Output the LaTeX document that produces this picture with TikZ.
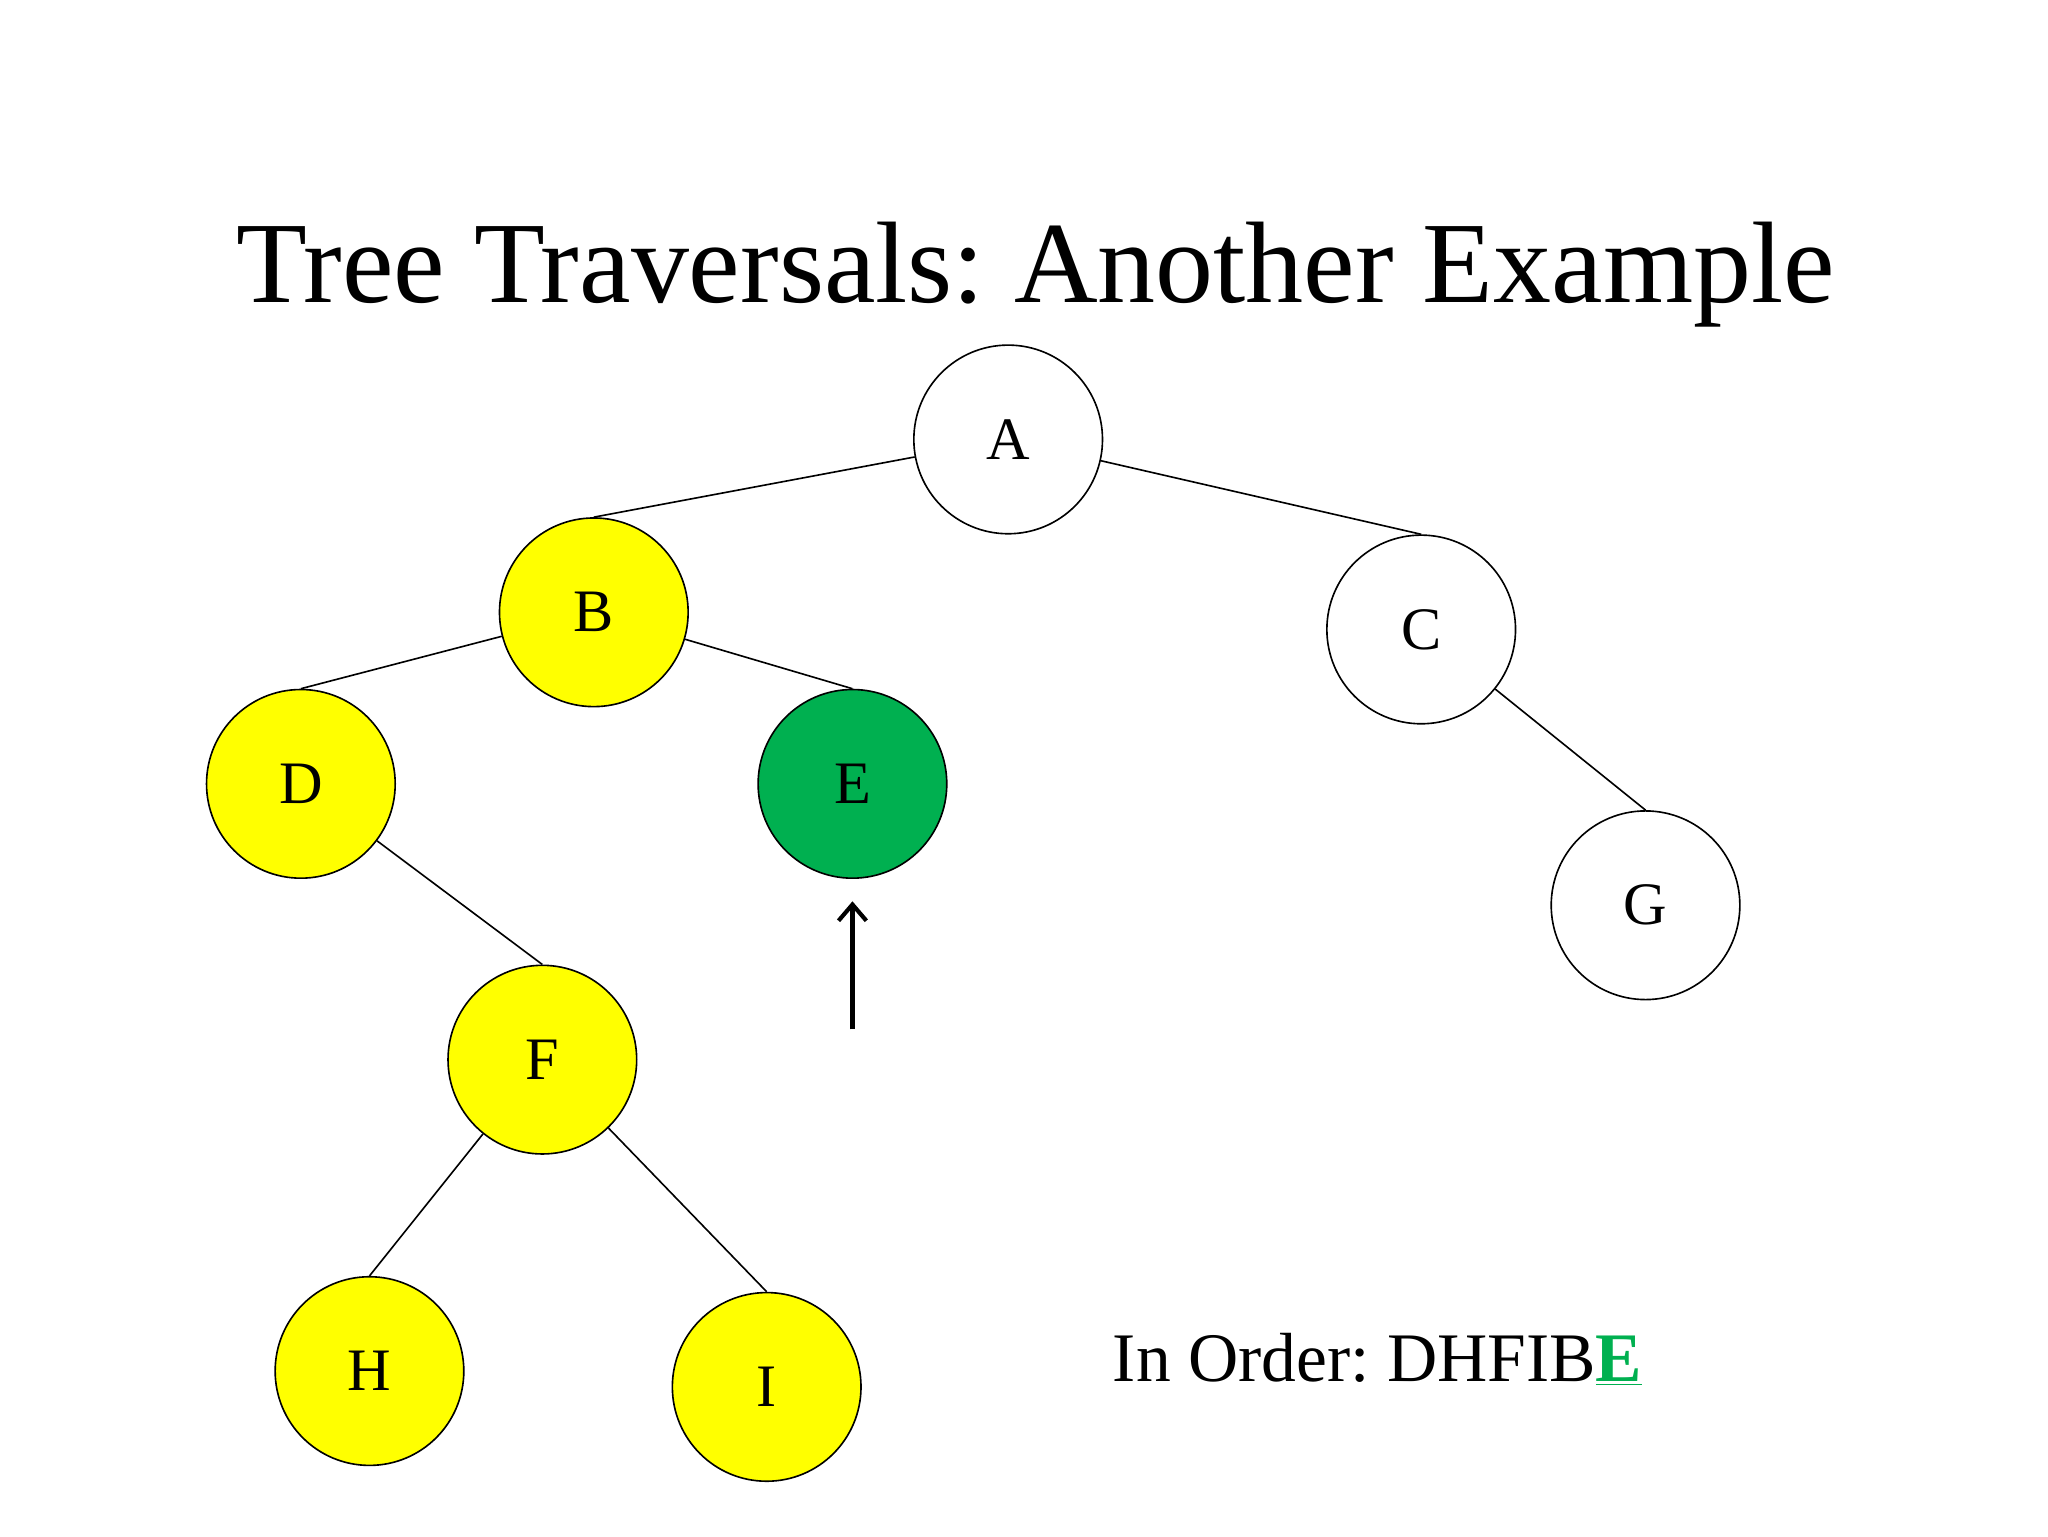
\documentclass[tikz,border=0pt]{standalone}
\usepackage{fontspec}
\setmainfont{Liberation Serif}
\usetikzlibrary{arrows.meta}
\definecolor{ygreen}{RGB}{0,176,80}
\definecolor{yel}{RGB}{255,255,0}
\begin{document}
\frenchspacing
\begin{tikzpicture}[x=0.02cm,y=-0.02cm,
  nd/.style={circle,draw,line width=0.7pt,minimum size=2.86cm,inner sep=0pt,font=\fontsize{26}{30}\selectfont},
  yl/.style={nd,fill=yel},
  ed/.style={line width=0.7pt}]
\useasboundingbox (0,0) rectangle (1552,1164);
\node[font=\fontsize{50}{56}\selectfont] (t) at (785,208) {Tree Traversals: Another Example};
\node[nd] (A) at (764,333) {A};
\node[yl] (B) at (450,464) {B};
\node[nd] (C) at (1077,477) {C};
\node[yl] (D) at (228,594) {D};
\node[nd,fill=ygreen] (E) at (646,594) {E};
\node[yl] (F) at (411,803) {F};
\node[nd] (G) at (1247,686) {G};
\node[yl] (H) at (280,1039) {H};
\node[yl] (I) at (581,1051) {I};
\draw[ed] (A) -- (B.north);
\draw[ed] (A) -- (C.north);
\draw[ed] (B) -- (D.north);
\draw[ed] (B) -- (E.north);
\draw[ed] (C) -- (G.north);
\draw[ed] (D) -- (F.north);
\draw[ed] (F) -- (H.north);
\draw[ed] (F) -- (I.north);
\coordinate (ar) at (646,780);
\coordinate (at) at (646,683);
\draw[line width=1.8pt,-{Straight Barb[length=7pt,width=12pt]}] (ar) -- (at);
\node[anchor=base west,inner sep=0pt,font=\fontsize{30}{36}\selectfont] (io) at (843,1047) {In Order: DHFIB\textcolor{ygreen}{\underline{\textbf{E}}}};
\end{tikzpicture}
\end{document}
